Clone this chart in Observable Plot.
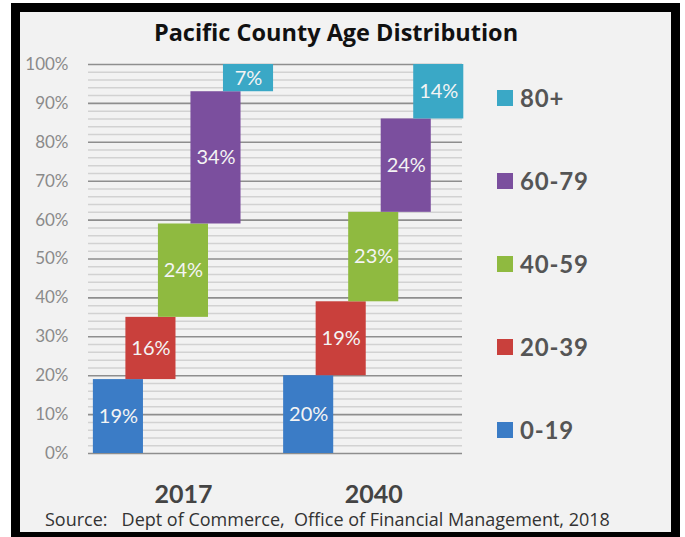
<!DOCTYPE html>
<html>
<head>
<meta charset="utf-8">
<script src="https://cdn.jsdelivr.net/npm/d3@7"></script>
<script src="https://cdn.jsdelivr.net/npm/@observablehq/plot@0.6"></script>
<style>
  html, body { margin: 0; padding: 0; background: #fff; overflow: hidden; }
  #page { position: relative; width: 685px; height: 537px; overflow: hidden; font-family: Lato, sans-serif; }
  #frame { position: absolute; left: 11px; top: 3px; width: 669px; height: 538px; box-sizing: border-box;
           border: 9px solid #000; background: #f2f2f2; }
  #chart { position: absolute; left: 0; top: 0; }
  #title { position: absolute; left: 0; width: 672px; top: 21px; text-align: center; font-size: 23.5px;
           font-family: "Open Sans", sans-serif; font-weight: bold; color: #111; line-height: 1; }
  #legend { position: absolute; left: 497px; top: 56px; }
  .item { display: flex; align-items: center; height: 83px; font-size: 24px; font-weight: bold; color: #555; letter-spacing: 0.8px; }
  .sw { width: 16px; height: 16px; margin-right: 7px; }
  #source { position: absolute; left: 45px; top: 510px; font-size: 18px; font-family: "Open Sans", sans-serif;
            color: #333; white-space: pre; line-height: 1; }
</style>
</head>
<body>
<div id="page">
  <div id="frame"></div>
  <div id="chart"></div>
  <div id="title"></div>
  <div id="legend"></div>
  <div id="source"></div>
</div>
<script>
const title = "Pacific County Age Distribution";
const source = "Source:   Dept of Commerce,  Office of Financial Management, 2018";
const years = ["2017", "2040"];
const ages = ["0-19", "20-39", "40-59", "60-79", "80+"];
const share2017 = [19, 16, 24, 34, 7];
const share2040 = [20, 19, 23, 24, 14];
const colors = ["#3b7cc6", "#c9403c", "#8fba40", "#7b4f9e", "#3aa8c6"];
const yTicks = [0, 10, 20, 30, 40, 50, 60, 70, 80, 90, 100];

// layout (in x-scale units)
const groupStart = [0.15, 6.0];
const barSpan = 1.54;
const shares = [share2017, share2040];

const rows = [];
years.forEach((yr, yi) => {
  let cum = 0;
  ages.forEach((age, ai) => {
    const v = shares[yi][ai];
    const x1 = groupStart[yi] + ai;
    rows.push({year: yr, age, v, x1, x2: x1 + barSpan, y1: cum, y2: cum + v});
    cum += v;
  });
});
const centers = groupStart.map(s => s + (ages.length - 1 + barSpan) / 2);
const minor = d3.range(0, 101, 2).filter(d => d % 10 !== 0);

const chart = Plot.plot({
  width: 685, height: 537,
  marginLeft: 88, marginRight: 223, marginTop: 64, marginBottom: 84,
  style: {background: "transparent", fontFamily: "Lato, sans-serif"},
  x: {type: "linear", domain: [0, 11.5], axis: null},
  y: {domain: [0, 100], axis: null},
  color: {domain: ages, range: colors},
  marks: [
    Plot.ruleY(minor, {stroke: "#d2d2d2", strokeWidth: 1.5}),
    Plot.ruleY(yTicks, {stroke: "#8e8e8e", strokeWidth: 1.6}),
    Plot.rectY(rows, {x1: "x1", x2: "x2", y1: "y1", y2: "y2", fill: "age"}),
    Plot.text(rows, {x: d => (d.x1 + d.x2) / 2, y: d => (d.y1 + d.y2) / 2, text: d => d.v + "%",
                     fill: "#f4f4f4", fontSize: 20}),
    Plot.axisY({ticks: yTicks, tickFormat: d => d + "%", tickSize: 0, tickPadding: 20,
                fontSize: 17, fill: "#8a8a8a"}),
    Plot.axisX({ticks: centers, tickFormat: d => years[centers.indexOf(d)], tickSize: 0, tickPadding: 32,
                fontSize: 25, fontWeight: "bold", fill: "#444"})
  ]
});
document.getElementById("chart").appendChild(chart);
document.getElementById("title").textContent = title;
document.getElementById("source").textContent = source;

const legend = document.getElementById("legend");
ages.slice().reverse().forEach(age => {
  const it = document.createElement("div");
  it.className = "item";
  const sw = document.createElement("div");
  sw.className = "sw";
  sw.style.background = colors[ages.indexOf(age)];
  const lab = document.createElement("span");
  lab.textContent = age;
  it.appendChild(sw);
  it.appendChild(lab);
  legend.appendChild(it);
});
</script>
</body>
</html>
